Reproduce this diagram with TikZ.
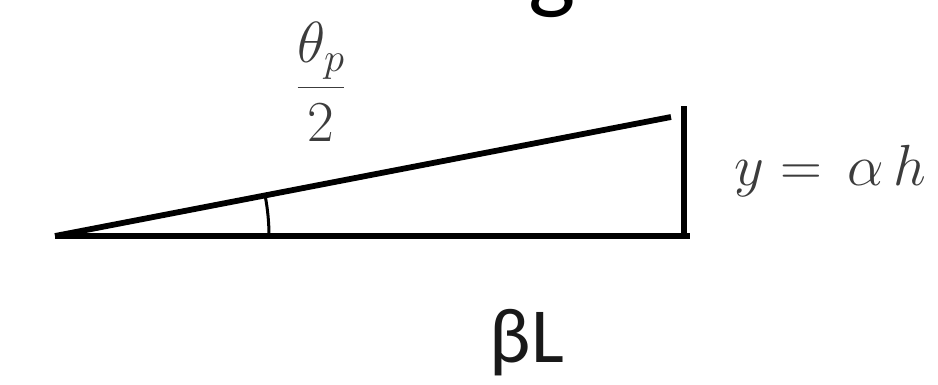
\RequirePackage{fix-cm}
\documentclass[tikz,border=0pt]{standalone}
\usepackage{amsmath}
\usepackage{fontspec}
\usetikzlibrary{calc}
\newfontfamily\calib{Carlito}
\definecolor{mathgray}{HTML}{3C3C3C}
\begin{document}
\begin{tikzpicture}[x=1pt,y=-1pt,
  edge/.style={line width=5.8pt,black},
  anglearc/.style={line width=3pt,black},
  mathlbl/.style={text=mathgray,inner sep=0pt,font=\fontsize{58}{70}\selectfont},
  sanslbl/.style={text=black!90,inner sep=0pt,font=\calib\fontsize{78}{90}\selectfont}]
\useasboundingbox (0,0) rectangle (938,384);
\clip (0,0) rectangle (938,384);
% cut-off title letter
\node[inner sep=0pt,anchor=base,font=\calib\fontsize{100}{110}\selectfont] (title) at (552,0) {g};
% triangle
\coordinate (A) at (55,236);
\coordinate (B) at (690,236);
\coordinate (C) at (671,117);
\coordinate (Ctop) at (684,106);
\coordinate (Cbot) at (684,238);
\draw[edge] (A) -- (B);
\draw[edge] (A) -- (C);
\draw[edge,line width=6pt] (Ctop) -- (Cbot);
\draw[anglearc] ($(A)+(214,0)$) arc[start angle=0,end angle=-10.9,radius=212];
% labels
\node[mathlbl] (theta) at (321,82) {$\dfrac{\theta_p}{2}$};
\node[mathlbl,anchor=base west] (yeq) at (734,185) {$y=\,\alpha\,h$};
\node[sanslbl,anchor=base] (bl) at (527,362) {βL};
\end{tikzpicture}
\end{document}
